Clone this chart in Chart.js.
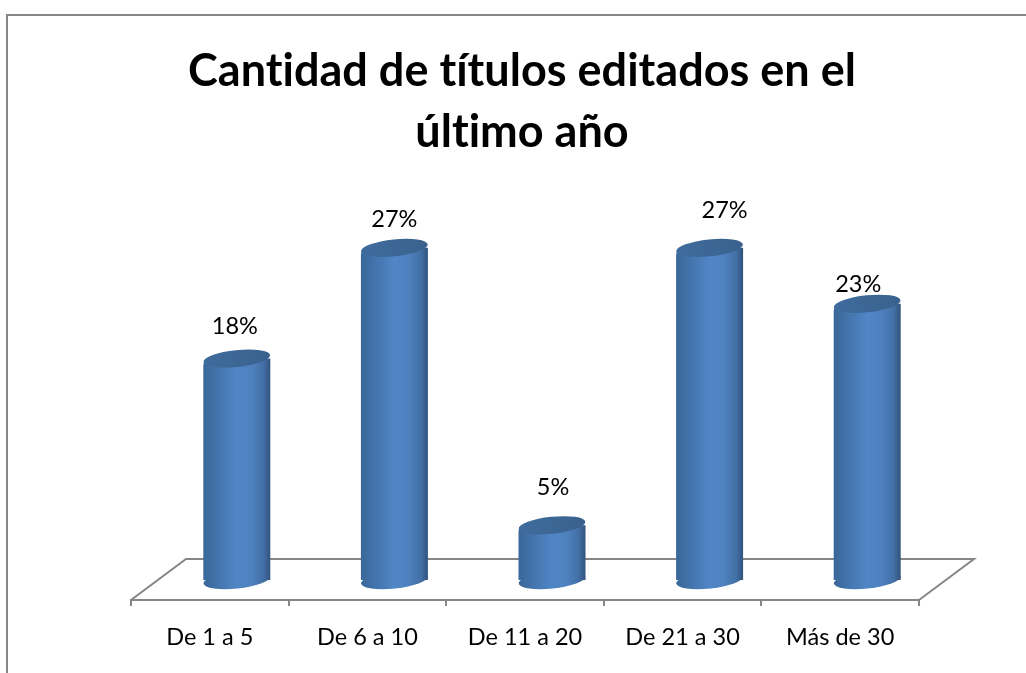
<!DOCTYPE html>
<html><head><meta charset="utf-8">
<script src="https://cdn.jsdelivr.net/npm/chart.js@4"></script>
<style>html,body{margin:0;padding:0;background:#fff}canvas{display:block}</style>
</head><body><canvas id="c" width="1026" height="673"></canvas>
<script>
const categories = ['De 1 a 5','De 6 a 10','De 11 a 20','De 21 a 30','Más de 30'];
const values = [18.2, 27.3, 4.5, 27.3, 22.7];
const valueLabels = ['18%','27%','5%','27%','23%'];
const titleLines = ['Cantidad de títulos editados en el','último año'];

const AXIS = '#868686', SHIFT = 27, DEPTH_X = 55, DEPTH_Y = 41, RY = 8.5, TILT = -6*Math.PI/180;
const LABEL_DX = [-2,0,1,15,-9], LABEL_DY = [-32,-28,-38,-37,-19];
const FONT = 'Lato, Carlito, sans-serif';

function bodyGrad(c,l,w){
  const g=c.createLinearGradient(l,0,l+w,0);
  g.addColorStop(0,'#3a6798');g.addColorStop(.5,'#5085c6');
  g.addColorStop(.72,'#4e81be');g.addColorStop(.9,'#426fa5');g.addColorStop(1,'#31527b');
  return g;
}
const cylinder = {
  id:'cylinder',
  beforeDraw(chart){
    const c=chart.ctx;c.save();
    c.fillStyle='#fff';c.fillRect(0,0,chart.width,chart.height);
    c.strokeStyle=AXIS;c.lineWidth=2;
    c.beginPath();c.moveTo(7,673);c.lineTo(7,15);c.lineTo(1026,15);c.stroke();
    c.restore();
    c.letterSpacing='0.01px';
  },
  beforeDatasetsDraw(chart){
    const c=chart.ctx,{x,y}=chart.scales,b=y.getPixelForValue(y.min);
    c.save();c.strokeStyle=AXIS;c.lineWidth=2;c.lineJoin='miter';
    c.beginPath();
    c.moveTo(x.left,b);c.lineTo(x.left+DEPTH_X,b-DEPTH_Y);c.lineTo(x.right+DEPTH_X,b-DEPTH_Y);c.lineTo(x.right,b);
    c.stroke();c.restore();
    c.save();c.translate(SHIFT,0);
    chart.getDatasetMeta(0).data.forEach(el=>{
      c.fillStyle=bodyGrad(c,el.x-el.width/2,el.width);
      c.beginPath();c.ellipse(el.x,el.base,el.width/2,RY,TILT,0,Math.PI*2);c.fill();
    });
  },
  afterDatasetsDraw(chart){
    const c=chart.ctx;
    chart.getDatasetMeta(0).data.forEach(el=>{
      const g=c.createLinearGradient(el.x-el.width/2,0,el.x+el.width/2,0);
      g.addColorStop(0,'#3f6c9e');g.addColorStop(.5,'#3c6795');g.addColorStop(1,'#3a618d');
      c.fillStyle=g;
      c.beginPath();c.ellipse(el.x,el.y,el.width/2,RY,TILT,0,Math.PI*2);c.fill();
    });
    c.restore();
    c.save();c.fillStyle='#000';c.font='23.5px '+FONT;c.textAlign='center';c.textBaseline='middle';
    chart.getDatasetMeta(0).data.forEach((el,i)=>{
      c.fillText(valueLabels[i],el.x+SHIFT+LABEL_DX[i],el.y+LABEL_DY[i]);
    });
    c.restore();
  }
};

new Chart(document.getElementById('c'),{
  type:'bar',
  data:{labels:categories,datasets:[{
    data:values,
    categoryPercentage:1,barPercentage:.425,clip:false,
    borderRadius:{topLeft:7,topRight:0,bottomLeft:0,bottomRight:7},
    backgroundColor(ctx){
      const ch=ctx.chart,x=ch.scales.x;
      if(!x||ctx.dataIndex===undefined) return '#4f81bd';
      const w=x.width/categories.length*.425,cx=x.getPixelForValue(ctx.dataIndex);
      if(!isFinite(w)||!isFinite(cx)) return '#4f81bd';
      return bodyGrad(ch.ctx,cx-w/2,w);
    }
  }]},
  plugins:[cylinder],
  options:{
    responsive:false,animation:false,devicePixelRatio:1,
    layout:{padding:{left:125,right:107,top:0,bottom:0}},
    plugins:{
      legend:{display:false},tooltip:{enabled:false},
      title:{display:true,text:titleLines,color:'#000',
        font:{family:FONT,size:45,weight:'bold',lineHeight:61/45},
        padding:{top:41,bottom:52}}
    },
    scales:{
      x:{
        grid:{drawOnChartArea:false,drawTicks:true,tickLength:6,color:AXIS,lineWidth:2},
        border:{display:true,color:AXIS,width:2},
        ticks:{color:'#000',font:{family:FONT,size:23.5},padding:17,maxRotation:0},
        afterFit(s){s.height=73;}
      },
      y:{
        min:-1.64,max:30,
        grid:{display:false},border:{display:false},
        ticks:{display:false},
        afterFit(s){s.width=6;}
      }
    }
  }
});
</script></body></html>
